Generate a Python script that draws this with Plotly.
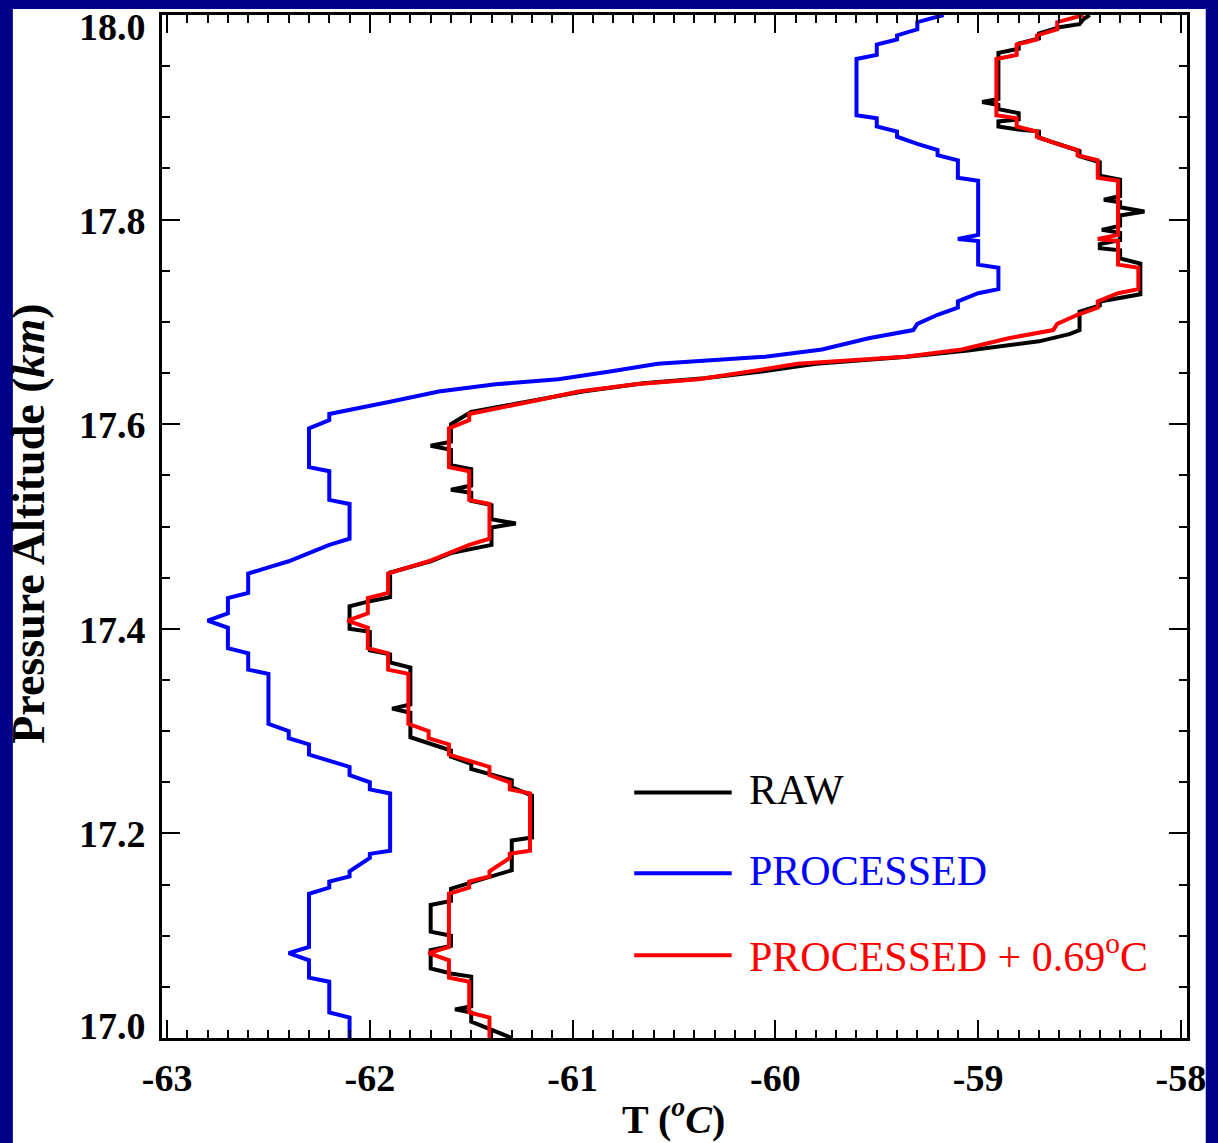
import numpy as np
import plotly.graph_objects as go

# Processed profile: pressure altitude (km) and temperature (deg C) at polyline vertices
processed_alt = [17.000, 17.020, 17.025, 17.055, 17.059, 17.076, 17.083, 17.089, 17.141, 17.147,
                 17.153, 17.158, 17.163, 17.176, 17.180, 17.183, 17.239, 17.243, 17.250, 17.257,
                 17.265, 17.271, 17.277, 17.287, 17.293, 17.300, 17.307, 17.356, 17.360, 17.376,
                 17.381, 17.401, 17.408, 17.415, 17.430, 17.435, 17.454, 17.460, 17.466, 17.474,
                 17.482, 17.488, 17.522, 17.526, 17.554, 17.558, 17.596, 17.604, 17.610, 17.622,
                 17.632, 17.639, 17.644, 17.652, 17.659, 17.666, 17.673, 17.684, 17.692, 17.698,
                 17.707, 17.714, 17.720, 17.728, 17.732, 17.753, 17.756, 17.779, 17.781, 17.785,
                 17.838, 17.841, 17.858, 17.863, 17.868, 17.874, 17.881, 17.886, 17.891, 17.899,
                 17.902, 17.957, 17.961, 17.971, 17.976, 17.980, 17.986, 17.993, 17.998, 18.000]
processed_temp = [-62.10, -62.10, -62.20, -62.20, -62.30, -62.30, -62.40, -62.30, -62.30, -62.20,
                  -62.20, -62.10, -62.10, -62.00, -62.00, -61.90, -61.90, -62.00, -62.00, -62.10,
                  -62.10, -62.20, -62.30, -62.30, -62.40, -62.40, -62.50, -62.50, -62.60, -62.60,
                  -62.70, -62.70, -62.80, -62.70, -62.70, -62.60, -62.60, -62.50, -62.40, -62.30,
                  -62.20, -62.10, -62.10, -62.20, -62.20, -62.30, -62.30, -62.20, -62.20, -61.90,
                  -61.66, -61.38, -61.07, -60.80, -60.58, -60.05, -59.77, -59.54, -59.32, -59.30,
                  -59.20, -59.10, -59.10, -59.00, -58.90, -58.90, -59.00, -59.00, -59.10, -59.00,
                  -59.00, -59.10, -59.10, -59.20, -59.20, -59.30, -59.40, -59.40, -59.50, -59.50,
                  -59.60, -59.60, -59.50, -59.50, -59.40, -59.40, -59.30, -59.30, -59.20, -59.17]

# Raw profile
raw_alt = [17.000, 17.016, 17.025, 17.028, 17.031, 17.060, 17.063, 17.068, 17.086, 17.090,
           17.100, 17.104, 17.130, 17.134, 17.146, 17.152, 17.158, 17.164, 17.193, 17.196,
           17.237, 17.245, 17.252, 17.257, 17.263, 17.268, 17.275, 17.281, 17.287, 17.294,
           17.318, 17.322, 17.326, 17.362, 17.367, 17.375, 17.379, 17.397, 17.400, 17.422,
           17.427, 17.431, 17.455, 17.460, 17.466, 17.474, 17.478, 17.482, 17.499, 17.503,
           17.507, 17.521, 17.525, 17.533, 17.536, 17.540, 17.556, 17.560, 17.575, 17.579,
           17.583, 17.600, 17.606, 17.612, 17.620, 17.632, 17.640, 17.645, 17.652, 17.659,
           17.666, 17.672, 17.681, 17.688, 17.692, 17.710, 17.716, 17.720, 17.727, 17.757,
           17.762, 17.770, 17.772, 17.776, 17.780, 17.787, 17.790, 17.794, 17.804, 17.808,
           17.812, 17.817, 17.8195, 17.823, 17.839, 17.843, 17.856, 17.862, 17.867, 17.874,
           17.880, 17.886, 17.888, 17.891, 17.896, 17.898, 17.904, 17.908, 17.912, 17.915,
           17.918, 17.963, 17.967, 17.972, 17.977, 17.982, 17.988, 17.991, 17.996, 18.000]
raw_temp = [-61.30, -61.50, -61.50, -61.58, -61.50, -61.50, -61.60, -61.70, -61.70, -61.60,
            -61.60, -61.70, -61.70, -61.60, -61.60, -61.50, -61.40, -61.30, -61.30, -61.20,
            -61.20, -61.30, -61.30, -61.40, -61.50, -61.50, -61.60, -61.60, -61.70, -61.80,
            -61.80, -61.89, -61.80, -61.80, -61.90, -61.90, -62.00, -62.00, -62.10, -62.10,
            -62.00, -61.90, -61.90, -61.80, -61.70, -61.60, -61.50, -61.40, -61.40, -61.28,
            -61.40, -61.40, -61.50, -61.50, -61.60, -61.50, -61.50, -61.60, -61.60, -61.70,
            -61.60, -61.60, -61.55, -61.50, -61.28, -60.95, -60.65, -60.35, -60.05, -59.80,
            -59.35, -59.05, -58.70, -58.55, -58.50, -58.50, -58.40, -58.40, -58.20, -58.20,
            -58.30, -58.30, -58.40, -58.40, -58.30, -58.30, -58.39, -58.30, -58.30, -58.18,
            -58.30, -58.30, -58.38, -58.30, -58.30, -58.40, -58.40, -58.50, -58.50, -58.60,
            -58.70, -58.70, -58.80, -58.90, -58.90, -58.80, -58.80, -58.90, -58.90, -58.98,
            -58.90, -58.90, -58.80, -58.80, -58.70, -58.70, -58.60, -58.50, -58.48, -58.45]

# Temperature offset applied to the processed profile
OFFSET = 0.69
shifted_temp = list(np.round(np.array(processed_temp) + OFFSET, 3))

x_ticks = [-63, -62, -61, -60, -59, -58]
y_ticks = [17.0, 17.2, 17.4, 17.6, 17.8, 18.0]

legend_names = ["RAW", "PROCESSED", "PROCESSED + 0.69<sup>o</sup>C"]
colors = ["#000000", "#0000ff", "#ff0000"]

NAVY = "#000088"
SERIF = "Liberation Serif"
TICK_FONT = dict(family=SERIF, size=38, color="black", weight="bold")

fig = go.Figure()
fig.add_trace(go.Scatter(x=raw_temp, y=raw_alt, mode="lines",
                         line=dict(color=colors[0], width=4), showlegend=False))
fig.add_trace(go.Scatter(x=processed_temp, y=processed_alt, mode="lines",
                         line=dict(color=colors[1], width=4), showlegend=False))
fig.add_trace(go.Scatter(x=shifted_temp, y=processed_alt, mode="lines",
                         line=dict(color=colors[2], width=4), showlegend=False))

axis_common = dict(
    showline=True, linecolor="black", linewidth=2.5, mirror="allticks",
    ticks="inside", ticklen=18, tickwidth=2, tickcolor="black",
    showgrid=False, zeroline=False, tickfont=TICK_FONT,
)
fig.update_xaxes(range=[-63.025, -57.97], tickvals=x_ticks,
                 ticktext=[str(v) for v in x_ticks], ticklabelstandoff=5,
                 ticklabeloverflow="allow",
                 minor=dict(dtick=0.1, ticks="inside", ticklen=8, tickwidth=2,
                            tickcolor="black", showgrid=False),
                 **axis_common)
# y tick labels are written as annotations so the end labels sit inside the axis span
fig.update_yaxes(range=[17.0, 18.0], tickvals=y_ticks, showticklabels=False,
                 minor=dict(dtick=0.05, ticks="inside", ticklen=8, tickwidth=2,
                            tickcolor="black", showgrid=False),
                 **axis_common)

shapes = [
    # white slide panel behind the chart
    dict(type="rect", xref="paper", yref="paper", x0=-0.1455, x1=1.0184, y0=-0.12, y1=1.0059,
         fillcolor="white", line=dict(width=0), layer="below"),
    # navy frame strip on the right, over the tick labels
    dict(type="rect", xref="paper", yref="paper", x0=1.0184, x1=1.05, y0=-0.12, y1=1.02,
         fillcolor=NAVY, line=dict(width=0), layer="above"),
]
annotations = []

for v in y_ticks:
    shift = -1
    if v == y_ticks[0]:
        shift = 12
    elif v == y_ticks[-1]:
        shift = -12
    annotations.append(dict(text=f"{v:.1f}", xref="paper", yref="y", x=-0.0136, y=v,
                            xanchor="right", yanchor="middle", yshift=shift,
                            showarrow=False, font=TICK_FONT))

legend_y = [0.240, 0.161, 0.081]
for name, col, ly in zip(legend_names, colors, legend_y):
    shapes.append(dict(type="line", xref="paper", yref="paper", x0=0.4607, x1=0.5558,
                       y0=ly, y1=ly, line=dict(color=col, width=4)))
    annotations.append(dict(text=name, xref="paper", yref="paper", x=0.5703, y=ly + 0.002,
                            xanchor="left", yanchor="middle", showarrow=False,
                            font=dict(family=SERIF, size=42, color=col)))

annotations.append(dict(text="Pressure Altitude (<i>km</i>)", xref="paper", yref="paper",
                        x=-0.131, y=0.5024, textangle=-90, xanchor="center", yanchor="middle",
                        showarrow=False,
                        font=dict(family=SERIF, size=46, color="black", weight="bold")))
annotations.append(dict(text="T (<sup><i>o</i></sup><i>C</i>)", xref="paper", yref="paper",
                        x=0.4995, y=-0.077, xanchor="center", yanchor="middle",
                        showarrow=False,
                        font=dict(family=SERIF, size=40, color="black", weight="bold")))

fig.update_layout(
    width=1218, height=1143,
    margin=dict(l=162, r=25, t=13, b=105),
    paper_bgcolor=NAVY, plot_bgcolor="white",
    shapes=shapes, annotations=annotations,
    showlegend=False,
)

fig.write_html("out.html")
